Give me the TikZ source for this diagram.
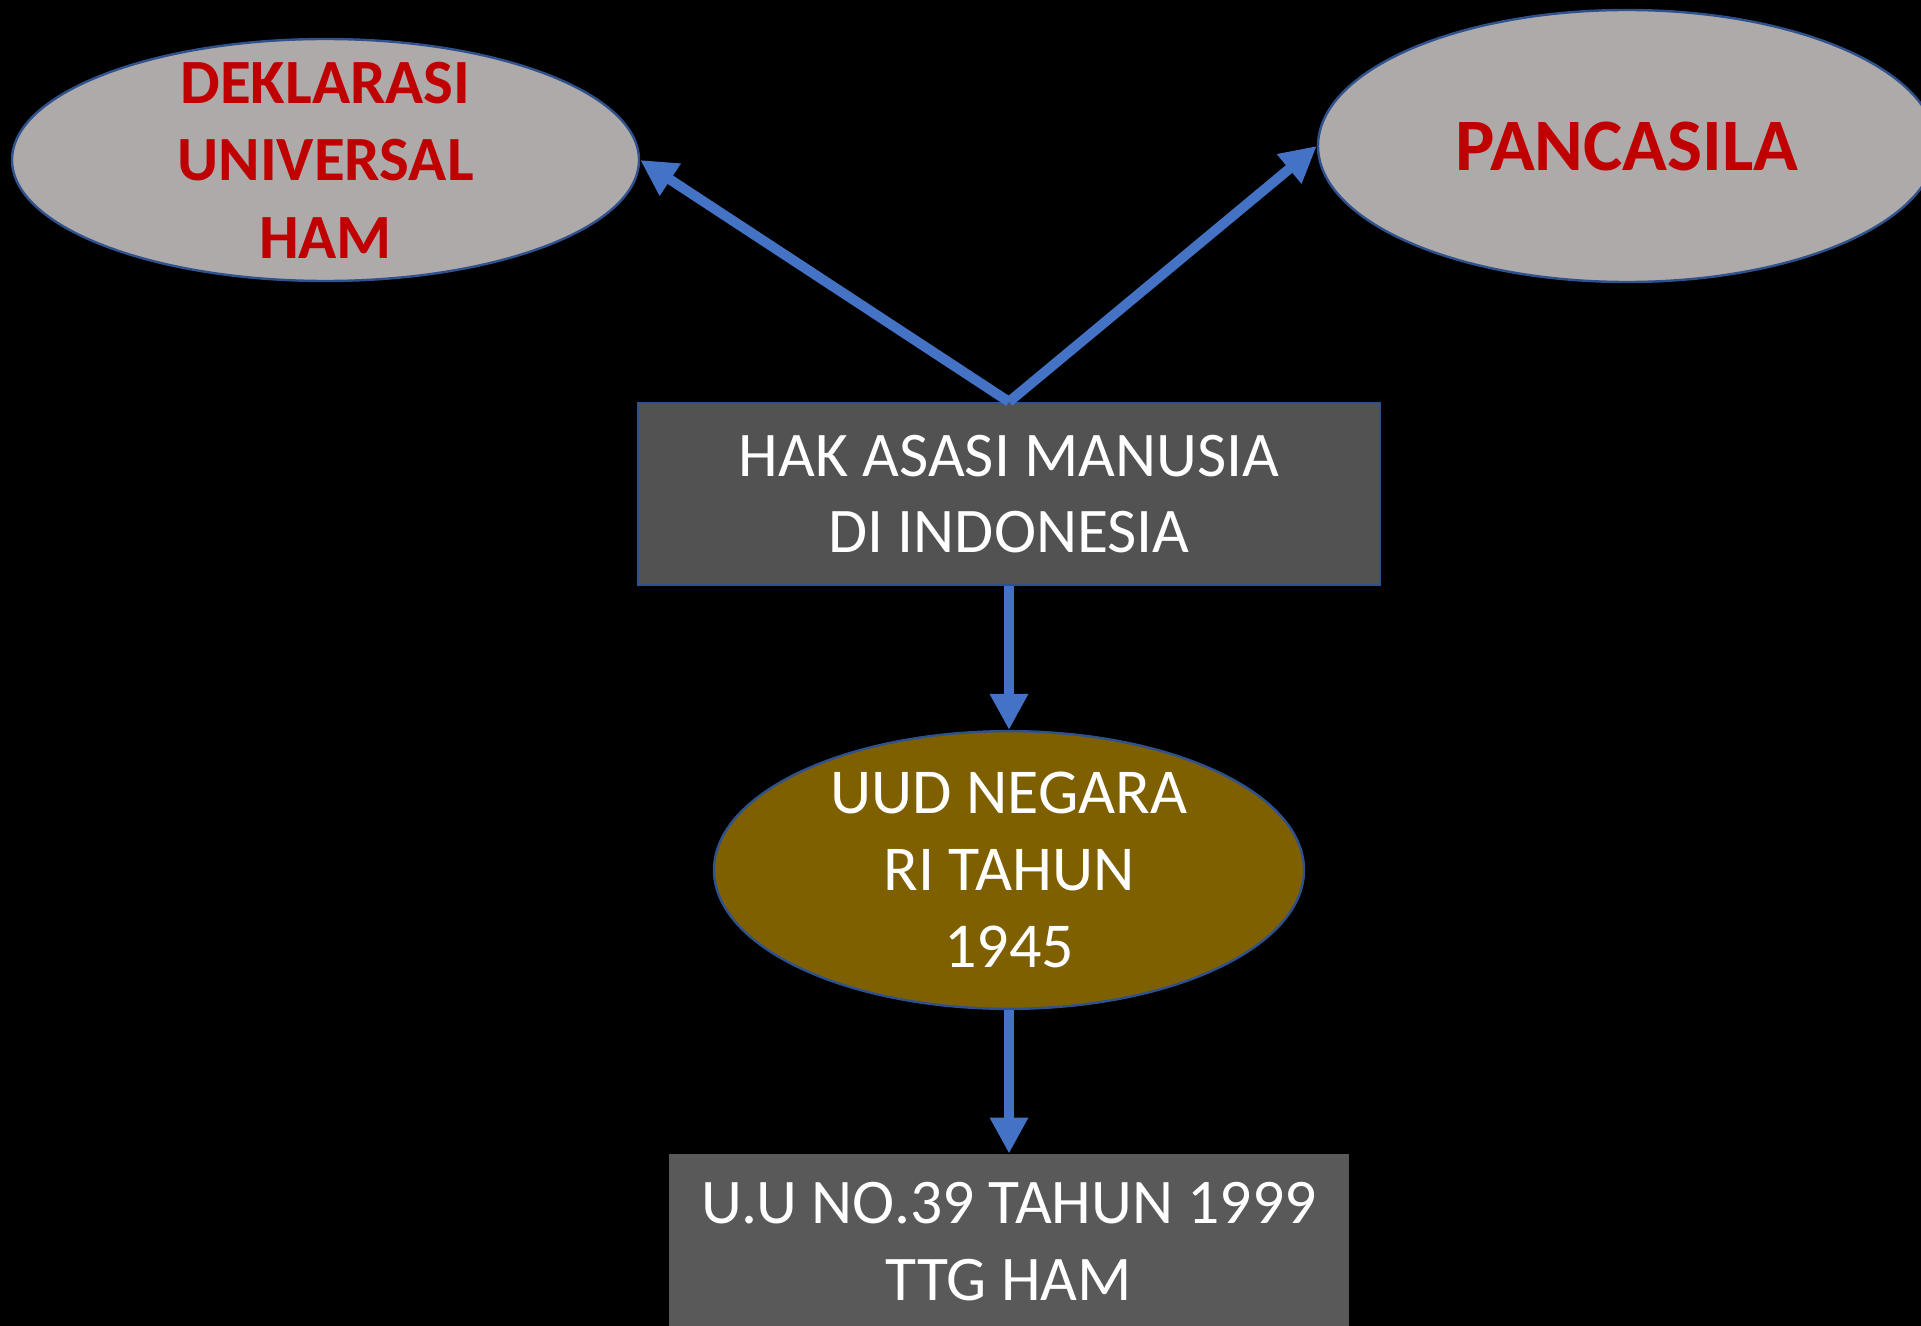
\documentclass[tikz,border=0pt]{standalone}
\usepackage{fontspec}
\setmainfont{Carlito}
\usetikzlibrary{shapes.geometric,arrows.meta}
\definecolor{bgblack}{HTML}{000000}
\definecolor{ovalgray}{HTML}{AEAAAA}
\definecolor{redtxt}{HTML}{C00000}
\definecolor{edgeblue}{HTML}{2F528F}
\definecolor{arrowblue}{HTML}{4472C4}
\definecolor{boxdark}{HTML}{525252}
\definecolor{boxgray}{HTML}{595959}
\definecolor{olive}{HTML}{7F6000}
\tikzset{
  grayoval/.style={ellipse, fill=ovalgray, draw=edgeblue, line width=1.2pt, inner sep=0pt, align=center, text=redtxt},
  darkbox/.style={rectangle, fill=boxdark, draw=edgeblue, line width=1.2pt, inner sep=0pt, align=center, text=white},
  lawbox/.style={rectangle, fill=boxgray, draw=none, inner sep=0pt, align=center, text=white},
  oliveoval/.style={ellipse, fill=olive, draw=edgeblue, line width=1.2pt, inner sep=0pt, align=center, text=white},
  conn/.style={draw=arrowblue, line width=5pt, -{Triangle[length=18pt,width=18pt]}}
}
\begin{document}
\begin{tikzpicture}[x=0.5pt,y=-0.5pt]
\fill[bgblack] (0,0) rectangle (1921,1326);
\useasboundingbox (0,0) rectangle (1921,1326);
\node[grayoval, minimum width=313.5pt, minimum height=121pt,
  label={[text=redtxt, align=center, font=\fontsize{31.5}{38.7}\selectfont\bfseries]center:DEKLARASI\\UNIVERSAL\\HAM}] (dek) at (325.5,160) {};
\node[grayoval, minimum width=309pt, minimum height=136pt,
  font=\fontsize{37}{44}\selectfont\bfseries] (pan) at (1627,146) {PANCASILA};
\node[darkbox, minimum width=371pt, minimum height=91pt,
  font=\fontsize{31.8}{38}\selectfont] (hak) at (1009,494) {HAK ASASI MANUSIA\\DI INDONESIA};
\node[oliveoval, minimum width=295pt, minimum height=136pt,
  font=\fontsize{32}{38.6}\selectfont] (uud) at (1009,870) {UUD NEGARA\\RI TAHUN\\1945};
\node[lawbox, minimum width=340pt, minimum height=88pt,
  font=\fontsize{31.8}{38.5}\selectfont] (uu) at (1009,1242) {U.U NO.39 TAHUN 1999\\TTG HAM};
\draw[conn] (hak.north) -- (dek.east);
\draw[conn] (hak.north) -- (pan.west);
\draw[conn] (hak.south) -- (uud.north);
\draw[conn] (uud.south) -- (uu.north);
\end{tikzpicture}
\end{document}
